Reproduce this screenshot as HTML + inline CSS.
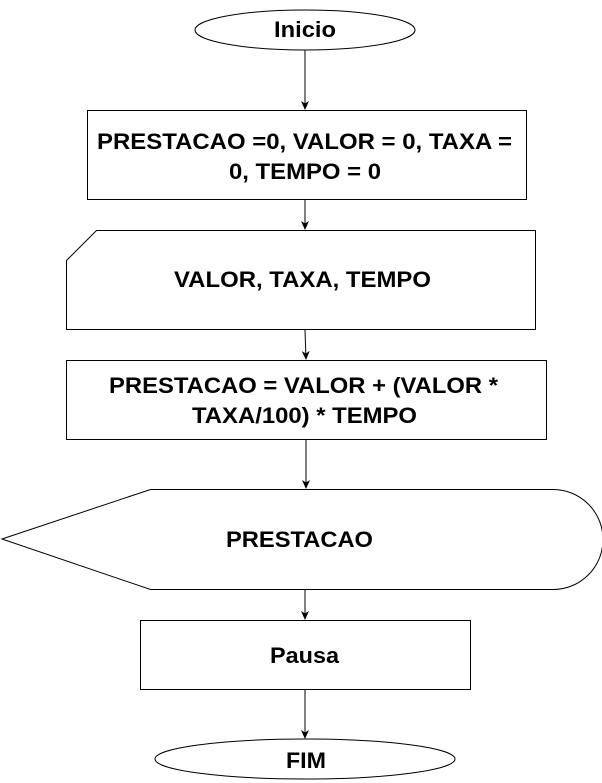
<!DOCTYPE html>
<html><head><meta charset="utf-8"><style>
html,body{margin:0;padding:0;background:#fff;width:602px;height:783px;overflow:hidden}
text{font-family:"Liberation Sans",Arial,sans-serif;font-weight:bold;font-size:22px;fill:#000}
</style></head><body>
<svg width="602" height="783" viewBox="0 0 602 783" xmlns="http://www.w3.org/2000/svg">
<defs><marker id="a" markerWidth="10" markerHeight="10" refX="8" refY="5" orient="auto" markerUnits="userSpaceOnUse"><path d="M0,1 L9,5 L0,9 L2.5,5 Z" fill="#000"/></marker></defs>
<g fill="#fff" stroke="#000" stroke-width="1">
<ellipse cx="305" cy="30" rx="110" ry="20"/>
<rect x="87.5" y="110.5" width="439" height="89"/>
<path d="M96.5,230.5 L535.5,230.5 L535.5,329.5 L66.5,329.5 L66.5,260.5 Z"/>
<rect x="66.5" y="360.5" width="480" height="79"/>
<path d="M2,539 L150.5,489.5 L553,489.5 A50,50 0 0 1 553,589.5 L150.5,589.5 Z"/>
<rect x="140.5" y="620.5" width="330" height="69"/>
<ellipse cx="305" cy="759" rx="150" ry="20"/>
</g>
<g stroke="#000" stroke-width="1" marker-end="url(#a)">
<line x1="305" y1="50" x2="305" y2="109"/>
<line x1="305" y1="200" x2="305" y2="229"/>
<line x1="305" y1="330" x2="306" y2="359"/>
<line x1="306" y1="440" x2="306" y2="488"/>
<line x1="305" y1="590" x2="305" y2="619"/>
<line x1="305" y1="690" x2="305" y2="738"/>
</g>
<g>
<text x="274" y="37" textLength="62" lengthAdjust="spacingAndGlyphs">Inicio</text>
<text x="97" y="149" textLength="415" lengthAdjust="spacingAndGlyphs">PRESTACAO =0, VALOR = 0, TAXA =</text>
<text x="229" y="179" textLength="152" lengthAdjust="spacingAndGlyphs">0, TEMPO = 0</text>
<text x="174" y="287" textLength="257" lengthAdjust="spacingAndGlyphs">VALOR, TAXA, TEMPO</text>
<text x="109" y="393" textLength="389" lengthAdjust="spacingAndGlyphs">PRESTACAO = VALOR + (VALOR *</text>
<text x="192" y="423" textLength="225" lengthAdjust="spacingAndGlyphs">TAXA/100) * TEMPO</text>
<text x="226" y="547" textLength="147" lengthAdjust="spacingAndGlyphs">PRESTACAO</text>
<text x="270" y="663" textLength="69" lengthAdjust="spacingAndGlyphs">Pausa</text>
<text x="286" y="768" textLength="40" lengthAdjust="spacingAndGlyphs">FIM</text>
</g>
</svg>
</body></html>
